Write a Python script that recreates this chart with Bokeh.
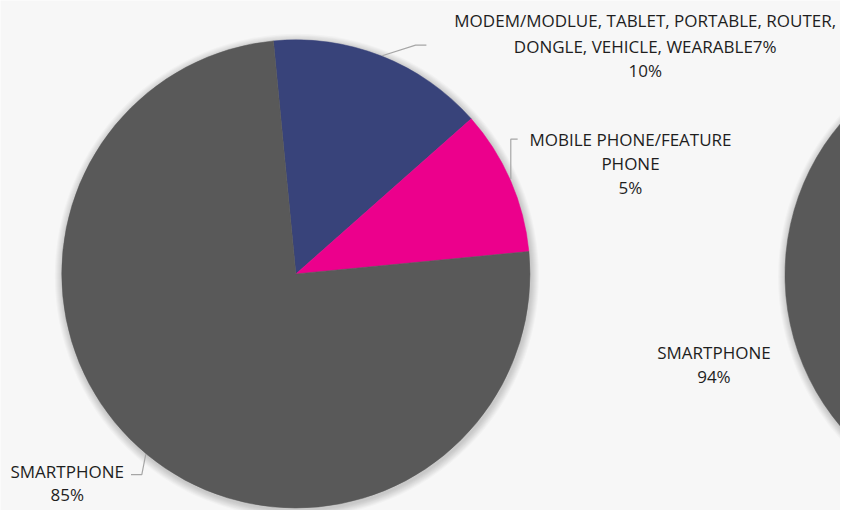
import math
from bokeh.plotting import figure
from bokeh.models import Range1d
from bokeh.core.properties import value
from bokeh.embed import file_html
from bokeh.resources import INLINE

# ---- data ----
left_categories = ["MODEM/MODLUE, TABLET, PORTABLE, ROUTER, DONGLE, VEHICLE, WEARABLE7%",
                   "MOBILE PHONE/FEATURE PHONE",
                   "SMARTPHONE"]
left_shares = [15, 10, 75]          # slice sizes as drawn
left_label_pcts = ["10%", "5%", "85%"]
right_categories = ["MODEM/MODLUE, TABLET, PORTABLE, ROUTER, DONGLE, VEHICLE, WEARABLE",
                    "MOBILE PHONE/FEATURE PHONE",
                    "SMARTPHONE"]
right_shares = [4, 2, 94]
right_label_pcts = ["4%", "2%", "94%"]
colors = ["#38437a", "#ec008c", "#595959"]

W, H = 840, 510
REF_W, REF_H = 856, 526
SX, SY = W / REF_W, H / REF_H
BG = "#f7f7f7"
FONT = "Open Sans"
TXT = "#1e1e1e"
LEAD = "#a6a6a6"


def px(X, Y):
    """reference-layout pixel -> data coordinate"""
    return X * SX, H - Y * SY


p = figure(width=W, height=H, output_backend="svg", toolbar_location=None,
           x_range=Range1d(0, W), y_range=Range1d(0, H),
           x_axis_location=None, y_axis_location=None, min_border=0)
p.grid.visible = False
p.outline_line_color = None
p.background_fill_color = BG
p.border_fill_color = BG


def draw_pie(cx, cy, r, shares, start_deg):
    # soft shadow
    for k in range(1, 9):
        p.circle(x=[cx + 1], y=[cy - 2], radius=r + k, fill_color="black",
                 fill_alpha=0.022, line_color=None)
    total = float(sum(shares))
    theta = start_deg
    for s, c in zip(shares, colors):
        span = 360.0 * s / total
        a0 = math.radians(90 - theta)
        a1 = math.radians(90 - (theta + span))
        p.wedge(x=[cx], y=[cy], radius=r, start_angle=a0, end_angle=a1,
                direction="clock", fill_color=c, line_color=c, line_width=0.5)
        theta += span


R = 240 * (SX + SY) / 2
lcx, lcy = px(301, 282)
draw_pie(lcx, lcy, R, left_shares, -5.5)
rcx, rcy = px(1038, 283)
draw_pie(rcx, rcy, R, right_shares, 0.0)


def label(lines, X, baselines, size="17px"):
    for t, Y in zip(lines, baselines):
        x, y = px(X, Y)
        p.text(x=[x], y=[y], text=[t], text_font=value(FONT), text_font_size=size,
               text_color=TXT, text_align="center", text_baseline="alphabetic")


def leader(pts):
    xs, ys = zip(*[px(a, b) for a, b in pts])
    p.line(x=list(xs), y=list(ys), line_color=LEAD, line_width=1.2)


# leader lines
leader([(389, 57), (423, 46), (434, 46)])
leader([(527, 143), (520, 143), (520, 184)])
leader([(133, 489), (144, 489), (148, 468)])

label(["MODEM/MODLUE, TABLET, PORTABLE, ROUTER,", "DONGLE, VEHICLE, WEARABLE7%",
       left_label_pcts[0]], 657, [21, 47, 72])
label(["MOBILE PHONE/FEATURE", "PHONE", left_label_pcts[1]], 642, [143, 168, 193])
label([left_categories[2], left_label_pcts[2]], 68, [486, 509])
label([right_categories[2], right_label_pcts[2]], 727, [363, 388])

open("out.html", "w").write(file_html(p, INLINE))
